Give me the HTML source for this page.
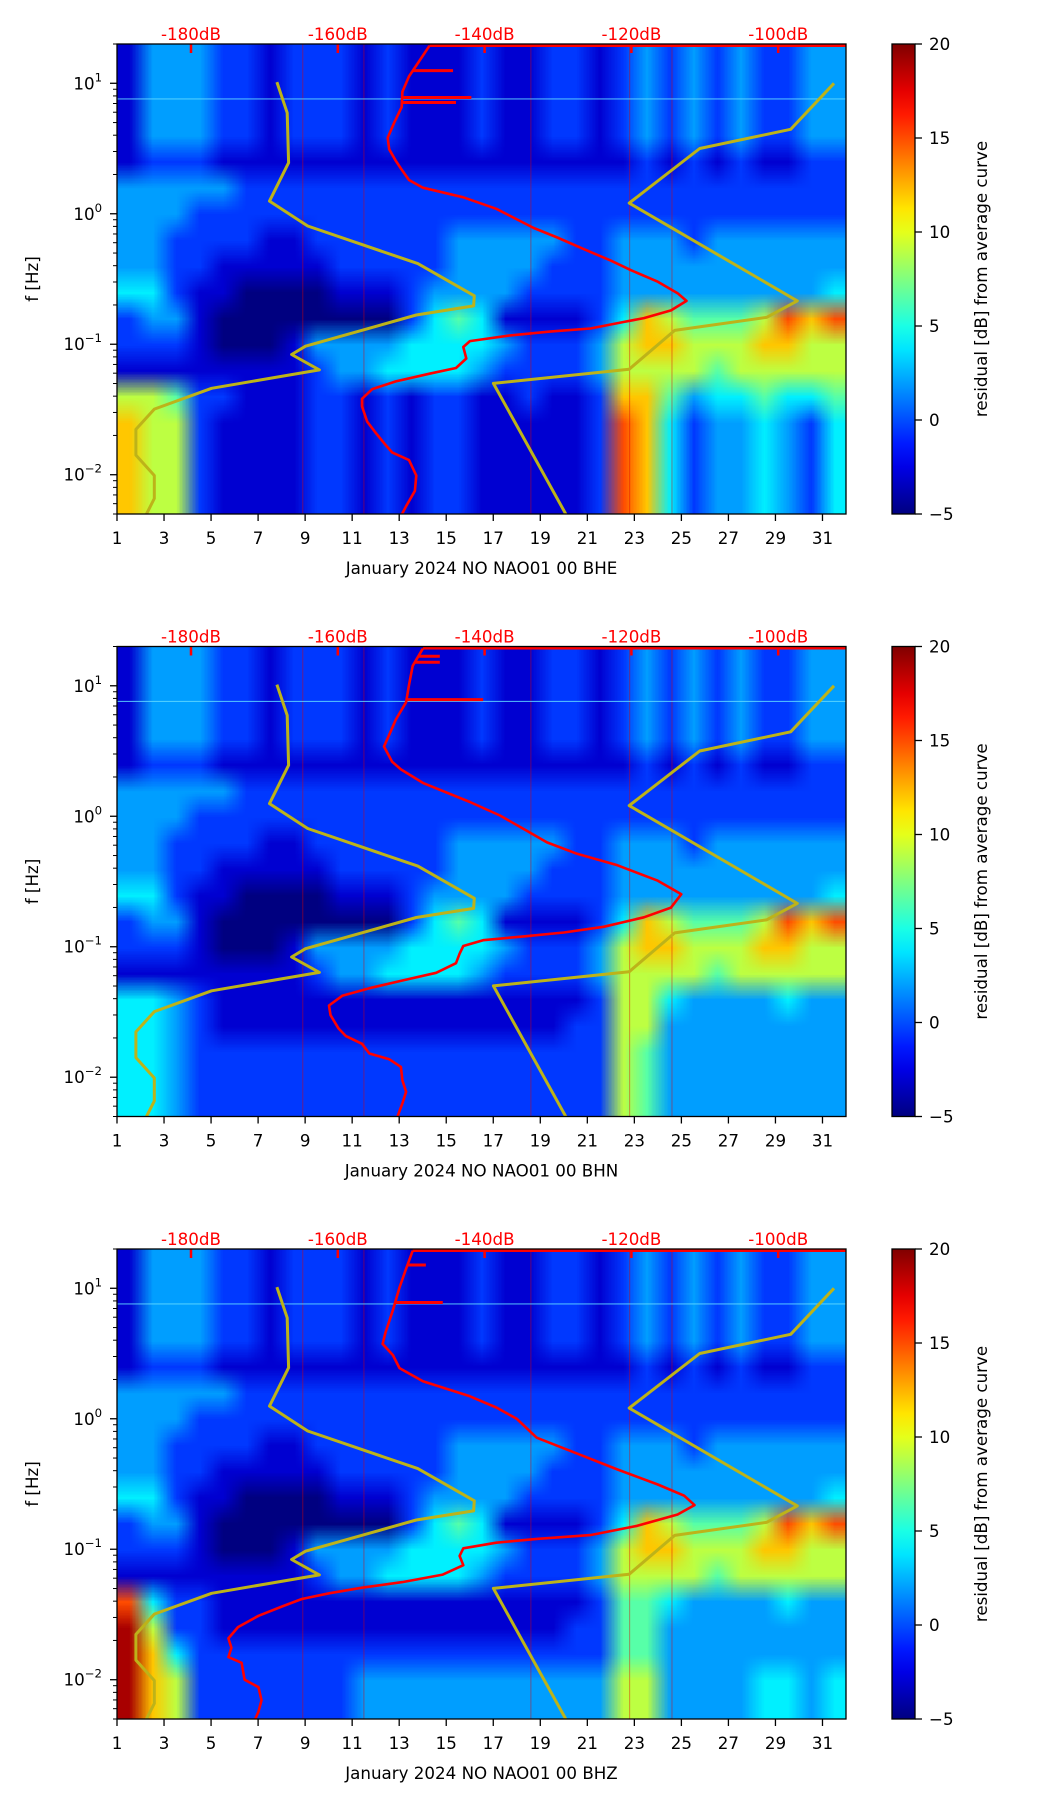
<!DOCTYPE html>
<html><head><meta charset="utf-8">
<style>
html,body{margin:0;padding:0;background:#fff;}
#wrap{position:relative;width:1052px;height:1806px;overflow:hidden;background:#fff;}
canvas{position:absolute;}
svg{position:absolute;left:0;top:0;}
text{font-family:"DejaVu Sans","Liberation Sans",sans-serif;}
</style></head>
<body>
<div id="wrap">
<svg id="fig" width="1052" height="1806" viewBox="0 0 1052 1806"></svg>
</div>
<script>
// ---------- data ----------
const channels = ["BHE","BHN","BHZ"];
const dayTicks = [1,3,5,7,9,11,13,15,17,19,21,23,25,27,29,31];
const dbTicks = [-180,-160,-140,-120,-100];
const cbTicks = [-5,0,5,10,15,20];
const yDecades = [1,0,-1,-2];
const levelDb = [-5,-3,-0.5,2,4,6.5,9,12,15,19];

// heatmap rows: 0.2-decade bands from 20 Hz down to 0.005 Hz, one char per day (1..31)
const upperRows = [
 "1333221222"+"1211121122"+"12323232233",
 "1333221222"+"1211121122"+"12323232233",
 "1333221222"+"1211121122"+"12323232233",
 "1333221222"+"1211121122"+"12323232233",
 "1222111111"+"1111111111"+"11212121122",
 "3333322222"+"2222222222"+"22222222222",
 "3332222222"+"2222222222"+"22222222222",
 "3322221122"+"2222333332"+"23332333333",
 "3322111112"+"2222333322"+"23333333333",
 "4421100001"+"1123333222"+"23333333334",
 "2331000000"+"0024541111"+"24765556878",
 "2221000133"+"3344443222"+"36776667766",
 "1111111123"+"3444432222"+"36666566666"
];
const lowerBHE = [
 "6652211122"+"1212211211"+"27753445445",
 "7662111122"+"1212211111"+"28742334324",
 "7662111122"+"1212211111"+"28742334324",
 "7662111122"+"1212211111"+"28742334324",
 "7662111122"+"1212211111"+"28742334324"
];
const lowerBHN = [
 "4432111111"+"1111111111"+"26643333433",
 "4432111111"+"1111111112"+"26633333333",
 "4432222222"+"2222222222"+"26533333333",
 "4432222222"+"2222222222"+"26533333333",
 "4432222222"+"2222222222"+"26533333333"
];
const lowerBHZ = [
 "8422111111"+"1111111111"+"25543333433",
 "9622111111"+"1111111112"+"25533333333",
 "9742222222"+"2222222222"+"25533333333",
 "9762222222"+"3333333333"+"36633334434",
 "9762222222"+"3333333333"+"36633334434"
];
const grids = [upperRows.concat(lowerBHE), upperRows.concat(lowerBHN), upperRows.concat(lowerBHZ)];

// thin event lines (days)
const spikeDays = [8.9, 11.5, 18.6, 22.8, 24.6];

// noise models (dB, log10 f)
const nlnmDb = [-168.3,-166.9,-166.7,-169.3,-164.1,-149.1,-141.4,-141.5,-149.3,-164.4,-166.3,-162.5,-177.2,-185.0,-187.5,-187.5,-185.0,-185.0,-186.1];
const nlnmLogF = [1.009,0.774,0.391,0.097,-0.094,-0.382,-0.629,-0.706,-0.776,-1.015,-1.079,-1.197,-1.338,-1.497,-1.653,-1.85,-2.006,-2.182,-2.306];
const nhnmDb = [-92.4,-98.3,-110.7,-120.3,-97.4,-101.6,-114.1,-120.3,-138.8,-128.9];
const nhnmLogF = [1.0,0.647,0.5,0.082,-0.668,-0.794,-0.894,-1.191,-1.3,-2.306];

// average curves
const avgBHEDb = [-147.5,-148.9,-150.3,-151.2,-151.3,-152.3,-153.2,-153.0,-152.1,-151.4,-150.3,-148.4,-142.9,-138.4,-133.3,-130.1,-126.5,-122.8,-120.1,-116.4,-113.7,-112.5,-114.6,-118.3,-121.0,-125.6,-131.1,-136.5,-142.0,-142.9,-142.5,-143.9,-147.5,-152.1,-155.3,-156.7,-156.7,-156.0,-154.8,-153.5,-152.6,-150.3,-149.3,-149.5,-150.7,-151.3];
const avgBHELogF = [1.288,1.171,1.053,0.935,0.818,0.7,0.582,0.494,0.406,0.347,0.259,0.2,0.126,0.038,-0.109,-0.182,-0.271,-0.359,-0.432,-0.521,-0.609,-0.668,-0.741,-0.8,-0.829,-0.879,-0.903,-0.932,-0.976,-1.021,-1.109,-1.182,-1.226,-1.285,-1.344,-1.418,-1.476,-1.594,-1.682,-1.771,-1.829,-1.888,-2.006,-2.124,-2.241,-2.306];
const avgBHNDb = [-148.4,-149.8,-150.3,-150.7,-152.1,-153.0,-153.7,-152.6,-151.4,-148.4,-142.0,-137.9,-134.7,-131.5,-127.4,-121.9,-116.4,-113.2,-114.6,-118.3,-123.8,-129.2,-134.7,-140.2,-142.9,-143.4,-143.9,-146.6,-151.2,-155.7,-159.4,-161.2,-161.0,-159.9,-158.9,-156.7,-155.7,-153.0,-151.4,-151.2,-150.7,-151.2,-151.9];
const avgBHNLogF = [1.285,1.153,1.006,0.874,0.741,0.624,0.535,0.418,0.359,0.256,0.109,0.006,-0.097,-0.2,-0.288,-0.376,-0.494,-0.597,-0.7,-0.774,-0.847,-0.891,-0.921,-0.95,-0.994,-1.053,-1.126,-1.2,-1.259,-1.318,-1.376,-1.45,-1.524,-1.626,-1.685,-1.744,-1.818,-1.862,-1.921,-2.024,-2.112,-2.2,-2.306];
const avgBHZDb = [-149.8,-150.7,-151.6,-152.5,-153.5,-153.9,-152.5,-151.6,-148.4,-142.0,-138.4,-135.6,-132.9,-127.7,-121.9,-116.4,-112.8,-111.4,-113.7,-119.2,-125.6,-132.9,-138.4,-142.9,-143.4,-142.9,-145.7,-151.2,-156.7,-161.2,-164.9,-167.6,-170.8,-173.6,-174.9,-174.5,-174.9,-173.1,-172.7,-170.8,-170.4,-170.8,-171.3];
const avgBHZLogF = [1.288,1.15,1.006,0.833,0.661,0.574,0.488,0.388,0.287,0.172,0.086,-0.001,-0.145,-0.26,-0.389,-0.504,-0.59,-0.662,-0.734,-0.82,-0.892,-0.921,-0.95,-0.993,-1.051,-1.122,-1.194,-1.252,-1.295,-1.338,-1.381,-1.439,-1.51,-1.597,-1.683,-1.755,-1.827,-1.87,-2.0,-2.057,-2.158,-2.244,-2.307];
const spikeLogF = [[1.097,0.891,0.853],[1.226,1.18,0.894],[1.178,0.891]];
const spikeDb = [[-144.3,-141.8,-143.9],[-146.1,-146.1,-140.2],[-148.0,-145.7]];
const avgDb = [avgBHEDb, avgBHNDb, avgBHZDb];
const avgLogF = [avgBHELogF, avgBHNLogF, avgBHZLogF];

// ---------- layout / scales ----------
const LEFT = 117, PW = 729, PH = 470;
const panelTops = [44, 646.5, 1249];
const DAY_MIN = 1, DAY_MAX = 32;
const LOGF_MAX = Math.log10(20), LOGF_MIN = Math.log10(0.005);
const FS = 16.7;
function xDay(d){ return LEFT + (d - DAY_MIN) / (DAY_MAX - DAY_MIN) * PW; }
function yLog(top, lf){ return top + (LOGF_MAX - lf) / (LOGF_MAX - LOGF_MIN) * PH; }
function xDb(db){ return 191 + (db + 180) * 7.34; }
function jet(v){
  let t = Math.max(0, Math.min(1, (v + 5) / 25));
  const c = x => Math.round(255 * Math.max(0, Math.min(1, x)));
  return [c(1.5 - Math.abs(4*t - 3)), c(1.5 - Math.abs(4*t - 2)), c(1.5 - Math.abs(4*t - 1))];
}
const NS = "http://www.w3.org/2000/svg";
const svg = document.getElementById('fig');
const wrap = document.getElementById('wrap');
function mk(tag, attrs, parent){
  const e = document.createElementNS(NS, tag);
  for (const k in attrs) e.setAttribute(k, attrs[k]);
  (parent || svg).appendChild(e);
  return e;
}

// colorbar gradient
const defs = mk('defs', {});
const grad = mk('linearGradient', {id:'jetg', x1:0, y1:1, x2:0, y2:0}, defs);
for (let i = 0; i <= 20; i++) {
  const v = -5 + 25 * i / 20;
  const c = jet(v);
  mk('stop', {offset: (i/20), 'stop-color': 'rgb('+c.join(',')+')'}, grad);
}

channels.forEach((ch, p) => {
  const top = panelTops[p];
  const bottom = top + PH;

  // heatmap canvas
  const small = document.createElement('canvas');
  const grid = grids[p];
  small.width = grid[0].length; small.height = grid.length;
  const sctx = small.getContext('2d');
  const img = sctx.createImageData(small.width, small.height);
  grid.forEach((row, r) => {
    for (let c = 0; c < row.length; c++) {
      const col = jet(levelDb[+row[c]]);
      const i = (r * small.width + c) * 4;
      img.data[i] = col[0]; img.data[i+1] = col[1]; img.data[i+2] = col[2]; img.data[i+3] = 255;
    }
  });
  sctx.putImageData(img, 0, 0);
  const cv = document.createElement('canvas');
  
  
  cv.width = PW; cv.height = PH;
  cv.style.left = LEFT + 'px'; cv.style.top = top + 'px';
  const ctx = cv.getContext('2d');
  ctx.imageSmoothingEnabled = true;
  const hx0 = xDay(DAY_MIN) - LEFT, hx1 = xDay(DAY_MAX) - LEFT;
  const hy0 = yLog(top, LOGF_MAX) - top, hy1 = yLog(top, LOGF_MIN) - top;
  ctx.drawImage(small, 0, 0, small.width, small.height, hx0, hy0, hx1 - hx0, hy1 - hy0);
  wrap.insertBefore(cv, svg);

  const g = mk('g', {});
  
  
  const cp = mk('clipPath', {id: 'clip' + p}, defs);
  mk('rect', {x: LEFT, y: top, width: PW, height: PH}, cp);
  const plot = mk('g', {'clip-path': 'url(#clip' + p + ')'}, g);
  
  

  // event lines
  spikeDays.forEach(d => {
    const l = mk('line', {x1: xDay(d), x2: xDay(d), y1: top, y2: bottom, stroke: '#e00000', 'stroke-width': 1, 'stroke-opacity': 0.45}, plot);
    
    
  });
  const hl = mk('line', {x1: LEFT, x2: LEFT + PW, y1: yLog(top, 0.88), y2: yLog(top, 0.88), stroke: '#5fd8ff', 'stroke-width': 1.2, 'stroke-opacity': 0.8}, plot);
  
  

  // noise models
  const lp = nlnmDb.map((d, i) => xDb(d).toFixed(1) + ',' + yLog(top, nlnmLogF[i]).toFixed(1)).join(' ');
  const nl = mk('polyline', {points: lp, fill: 'none', stroke: '#bdb319', 'stroke-width': 3, 'stroke-linejoin': 'round'}, plot);
  
  
  const hp = nhnmDb.map((d, i) => xDb(d).toFixed(1) + ',' + yLog(top, nhnmLogF[i]).toFixed(1)).join(' ');
  const nh = mk('polyline', {points: hp, fill: 'none', stroke: '#bdb319', 'stroke-width': 3, 'stroke-linejoin': 'round'}, plot);
  
  

  // average curve
  const dbs = avgDb[p], lfs = avgLogF[p];
  const ap = dbs.map((d, i) => xDb(d).toFixed(1) + ',' + yLog(top, lfs[i]).toFixed(1)).join(' ');
  const av = mk('polyline', {points: ap, fill: 'none', stroke: '#ff0000', 'stroke-width': 2.6, 'stroke-linejoin': 'round'}, plot);
  
  
  const tl = mk('line', {x1: xDb(dbs[0]), x2: LEFT + PW, y1: top + 1.5, y2: top + 1.5, stroke: '#ff0000', 'stroke-width': 3}, plot);
  
  
  spikeLogF[p].forEach((lf, k) => {
    let base = dbs[0];
    for (let i = 0; i < lfs.length - 1; i++) {
      if (lf <= lfs[i] && lf >= lfs[i+1]) { const t = (lfs[i] - lf) / (lfs[i] - lfs[i+1]); base = dbs[i] + t * (dbs[i+1] - dbs[i]); }
    }
    const s = mk('line', {x1: xDb(base), x2: xDb(spikeDb[p][k]), y1: yLog(top, lf), y2: yLog(top, lf), stroke: '#ff0000', 'stroke-width': 3}, plot);
    
    
  });

  // top dB ticks & labels
  dbTicks.forEach(db => {
    const t = mk('line', {x1: xDb(db), x2: xDb(db), y1: top, y2: top + 9, stroke: '#ff0000', 'stroke-width': 2.5}, g);
    
    
    const tx = mk('text', {x: xDb(db), y: top - 4, 'text-anchor': 'middle', 'font-size': FS, fill: '#ff0000'}, g);
    tx.textContent = db + 'dB';
    
    
  });

  // frame
  const fr = mk('rect', {x: LEFT, y: top, width: PW, height: PH, fill: 'none', stroke: '#000', 'stroke-width': 1.3}, g);
  
  

  // x ticks
  dayTicks.forEach(d => {
    const t = mk('line', {x1: xDay(d), x2: xDay(d), y1: bottom, y2: bottom + 7, stroke: '#000', 'stroke-width': 1.3}, g);
    
    
    const tx = mk('text', {x: xDay(d), y: bottom + 30, 'text-anchor': 'middle', 'font-size': FS, fill: '#000'}, g);
    tx.textContent = d;
    
    
  });
  const xl = mk('text', {x: LEFT + PW / 2, y: bottom + 60, 'text-anchor': 'middle', 'font-size': FS, fill: '#000'}, g);
  xl.textContent = 'January 2024 NO NAO01 00 ' + ch;
  
  

  // y ticks
  for (let e = -3; e <= 1; e++) {
    for (let m = 1; m <= 9; m++) {
      const lf = e + Math.log10(m);
      if (lf > LOGF_MAX || lf < LOGF_MIN) continue;
      const major = m === 1;
      const t = mk('line', {x1: LEFT - (major ? 7 : 4), x2: LEFT, y1: yLog(top, lf), y2: yLog(top, lf), stroke: '#000', 'stroke-width': major ? 1.3 : 1}, g);
      
      
    }
  }
  yDecades.forEach(e => {
    const tx = mk('text', {x: 102, y: yLog(top, e) + 6, 'text-anchor': 'end', 'font-size': FS, fill: '#000'}, g);
    
    
    const b = mk('tspan', {}, tx); b.textContent = '10';
    const s = mk('tspan', {dy: -8, 'font-size': 11.7}, tx); s.textContent = (e < 0 ? '\u2212' + (-e) : '' + e);
  });
  const yl = mk('text', {x: 0, y: 0, 'text-anchor': 'middle', 'font-size': FS, fill: '#000', transform: 'translate(38,' + (top + PH / 2) + ') rotate(-90)'}, g);
  yl.textContent = 'f [Hz]';
  
  

  // colorbar
  const cb = mk('rect', {x: 892, y: top, width: 23, height: PH, fill: 'url(#jetg)', stroke: '#000', 'stroke-width': 1.3}, g);
  
  
  cbTicks.forEach(v => {
    const yy = top + (20 - v) / 25 * PH;
    const t = mk('line', {x1: 915, x2: 922, y1: yy, y2: yy, stroke: '#000', 'stroke-width': 1.3}, g);
    
    
    const tx = mk('text', {x: 929, y: yy + 6, 'font-size': FS, fill: '#000'}, g);
    tx.textContent = v < 0 ? '\u2212' + (-v) : '' + v;
    
    
  });
  const cl = mk('text', {x: 0, y: 0, 'text-anchor': 'middle', 'font-size': FS, fill: '#000', transform: 'translate(987,' + (top + PH / 2) + ') rotate(-90)'}, g);
  cl.textContent = 'residual [dB] from average curve';
  
  
});
</script>
</body></html>
